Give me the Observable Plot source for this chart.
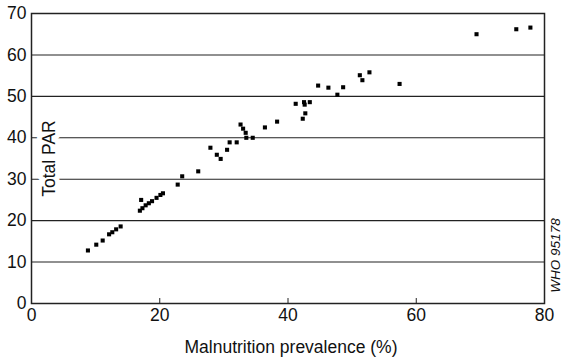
<!DOCTYPE html>
<html>
<head>
<meta charset="utf-8">
<script src="https://cdn.jsdelivr.net/npm/d3@7"></script>
<script src="https://cdn.jsdelivr.net/npm/@observablehq/plot@0.6"></script>
<style>
  html, body { margin: 0; padding: 0; background: #fff; }
  #chart svg { display: block; }
</style>
</head>
<body>
<div id="chart"></div>
<script>
const malnutrition = [8.8, 10.1, 11.1, 12.1, 12.6, 13.2, 13.9, 16.9, 17.3, 17.8, 18.3, 18.8, 19.5, 20.1, 20.5, 17.1,
  22.8, 23.5, 26.0, 27.9, 28.9, 29.5, 30.5, 30.9, 32.0, 32.6, 33.0, 33.4, 33.5, 34.5, 36.4, 38.3,
  41.2, 42.3, 42.7, 42.5, 42.6, 43.4, 44.7, 46.3, 47.7, 48.6, 51.2, 51.6, 52.7, 57.4, 69.4, 75.6, 77.8];
const totalPAR = [12.8, 14.2, 15.2, 16.7, 17.2, 17.9, 18.6, 22.4, 23.0, 23.7, 24.2, 24.7, 25.5, 26.2, 26.6, 25.0,
  28.7, 30.7, 31.9, 37.6, 35.9, 34.9, 37.1, 38.9, 38.9, 43.2, 42.2, 41.2, 40.0, 40.0, 42.5, 43.9,
  48.2, 44.6, 45.9, 48.6, 48.0, 48.6, 52.6, 52.1, 50.4, 52.2, 55.1, 53.9, 55.8, 53.0, 65.0, 66.2, 66.6];
const xTicks = [0, 20, 40, 60, 80];
const yTicks = [0, 10, 20, 30, 40, 50, 60, 70];
const xInnerTicks = [20, 40, 60];
const xTitle = "Malnutrition prevalence (%)";
const yTitle = "Total PAR";
const credit = "WHO 95178";

const data = malnutrition.map((x, i) => ({x, y: totalPAR[i]}));

const chart = Plot.plot({
  width: 563,
  height: 359,
  marginLeft: 31,
  marginRight: 19,
  marginTop: 13,
  marginBottom: 56,
  style: {fontFamily: "Liberation Sans, Arial, sans-serif", color: "#111", background: "#fff"},
  x: {domain: [0, 80], ticks: xTicks},
  y: {domain: [0, 70], ticks: yTicks},
  marks: [
    Plot.ruleY(yTicks, {stroke: "#222", strokeWidth: 1.1}),
    Plot.ruleX(xInnerTicks, {y1: 0, y2: 1.2, stroke: "#222", strokeWidth: 1}),
    Plot.text([yTitle], {frameAnchor: "left", dx: 18, rotate: -90, fontSize: 17.5, fill: "#111",
      stroke: "white", strokeWidth: 10, paintOrder: "stroke", textAnchor: "middle", lineAnchor: "middle"}),
    Plot.dot(data, {x: "x", y: "y", symbol: "square", r: 2.3, fill: "#000", stroke: "none"}),
    Plot.frame({stroke: "#222", strokeWidth: 1.5}),
    Plot.axisX({ticks: xTicks, tickSize: 0, tickPadding: 5, fontSize: 17.5, label: null}),
    Plot.axisY({ticks: yTicks, tickSize: 0, tickPadding: 5, fontSize: 17.5, label: null}),
    Plot.text([xTitle], {frameAnchor: "bottom", dy: 44, dx: 3, fontSize: 17.5, fill: "#111", lineAnchor: "middle"}),
    Plot.text([credit], {frameAnchor: "bottom-right", dx: 11, dy: -48, rotate: -90, fontSize: 13.5,
      fontStyle: "italic", fill: "#111", textAnchor: "middle", lineAnchor: "middle"})
  ]
});
document.getElementById("chart").appendChild(chart);
</script>
</body>
</html>
